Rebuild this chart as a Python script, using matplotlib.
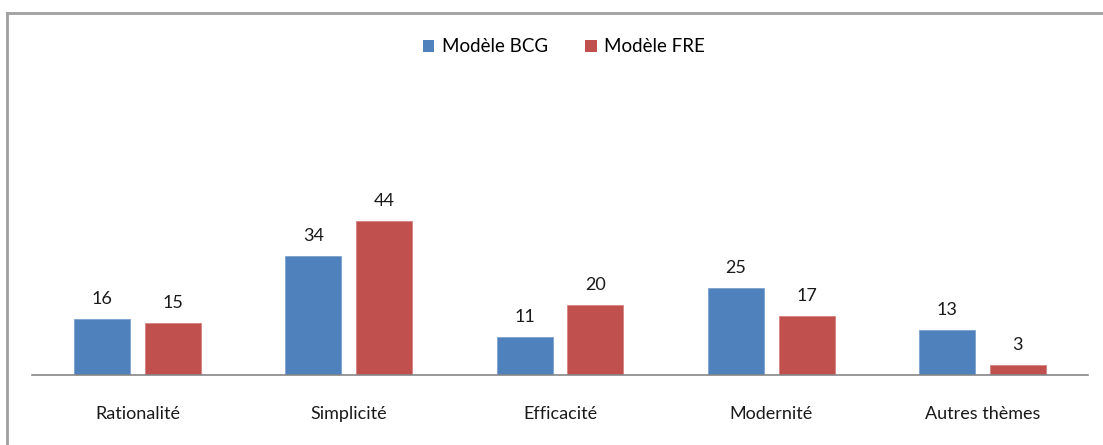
import matplotlib.pyplot as plt
import numpy as np
from matplotlib.lines import Line2D
from matplotlib.patches import Patch

categories = ["Rationalité", "Simplicité", "Efficacité", "Modernité", "Autres thèmes"]
bcg_values = [16, 34, 11, 25, 13]
fre_values = [15, 44, 20, 17, 3]
series_names = ["Modèle BCG", "Modèle FRE"]

BLUE = "#4f81bd"
RED = "#c0504d"

plt.rcParams["font.family"] = ["Lato", "DejaVu Sans"]

W, H = 1103, 445
fig = plt.figure(figsize=(W / 100, H / 100), dpi=100)
fig.patch.set_facecolor("white")

# plot area in pixel coordinates
left, right, base, top = 32, 1088, 375, 60
ax = fig.add_axes([left / W, 1 - base / H, (right - left) / W, (base - top) / H])

x = np.arange(len(categories))
width = 0.265
offset = 0.071 / 2 + width / 2
b1 = ax.bar(x - offset, bcg_values, width, color=BLUE, edgecolor="#7ea3d0", linewidth=0.6)
b2 = ax.bar(x + offset, fre_values, width, color=RED, edgecolor="#d88380", linewidth=0.6)

for bars, vals in ((b1, bcg_values), (b2, fre_values)):
    for rect, v in zip(bars, vals):
        ax.text(rect.get_x() + rect.get_width() / 2, v + 3.4, str(v),
                ha="center", va="bottom", fontsize=13, color="#1a1a1a")

ax.set_xlim(-0.5, len(categories) - 0.5)
ax.set_ylim(0, (base - top) / 3.5)
ax.set_xticks(x)
ax.set_xticklabels(categories, fontsize=13, color="#1a1a1a")
ax.tick_params(axis="x", length=0, pad=22)
ax.set_yticks([])
for side in ("top", "right", "left"):
    ax.spines[side].set_visible(False)
ax.spines["bottom"].set_color("#868686")
ax.spines["bottom"].set_linewidth(1.2)

handles = [Patch(facecolor=BLUE), Patch(facecolor=RED)]
fig.legend(handles, series_names, loc="center", bbox_to_anchor=(564 / W, 1 - 47 / H),
           ncol=2, frameon=False, fontsize=13.5, handlelength=0.6, handleheight=0.6,
           handletextpad=0.4, columnspacing=2.0)

# chart border (top and left edges visible)
fig.add_artist(Line2D([7 / W, 1.0], [1 - 13 / H, 1 - 13 / H], transform=fig.transFigure,
                      color="#a0a0a0", linewidth=2))
fig.add_artist(Line2D([7 / W, 7 / W], [0.0, 1 - 13 / H], transform=fig.transFigure,
                      color="#a0a0a0", linewidth=2))

fig.savefig("out.png", dpi=100)
